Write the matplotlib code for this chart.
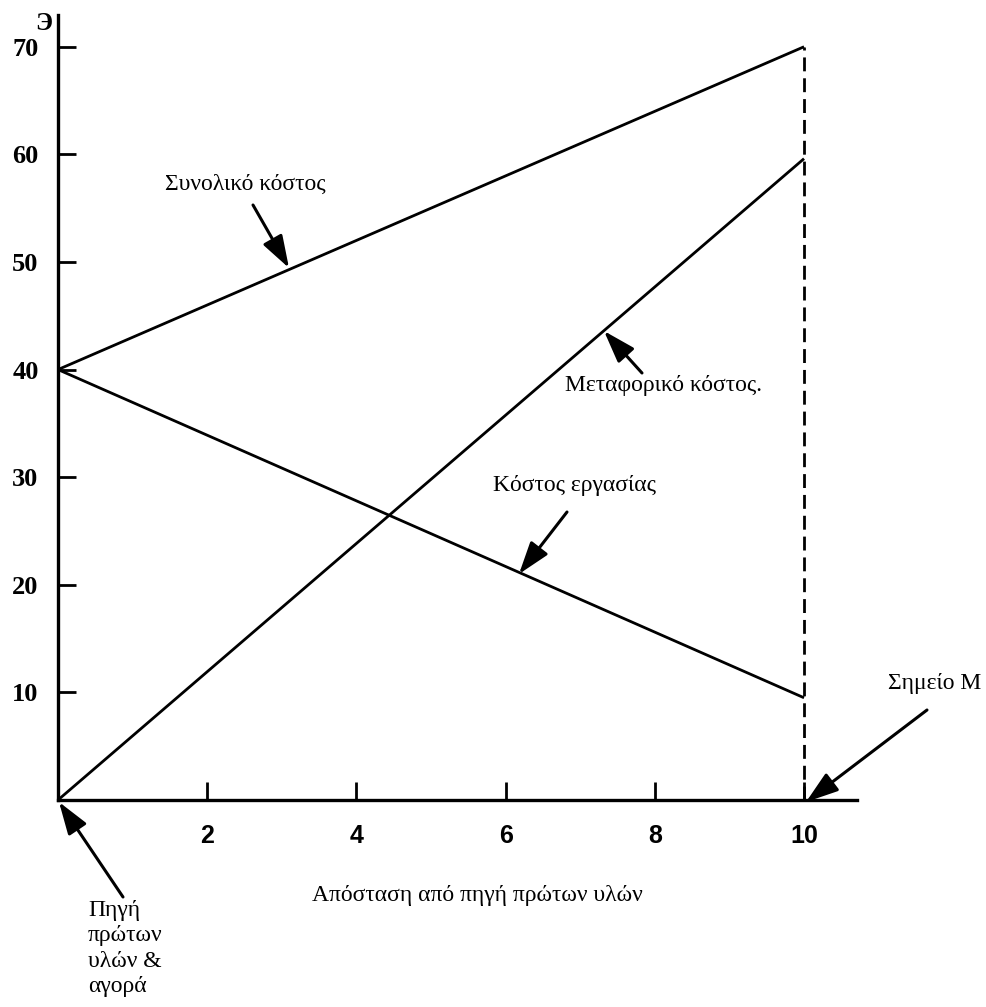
import matplotlib
matplotlib.use("Agg")
import matplotlib.pyplot as plt

# Data
distance = [0, 10]
total_cost = [40, 70]
transport_cost = [0, 59.6]
labour_cost = [40, 9.5]
x_ticks = [2, 4, 6, 8, 10]
y_ticks = [10, 20, 30, 40, 50, 60, 70]
point_m = 10

SERIF = "Liberation Serif"
SANS = "Liberation Sans"

W, H = 987, 1007
fig = plt.figure(figsize=(W / 100, H / 100), dpi=100)
ax = fig.add_axes([58 / W, 1 - 800 / H, 799 / W, 785 / H])
ax.set_xlim(0, 10.71)
ax.set_ylim(0, 72.95)

lw = 2.0
ax.plot(distance, total_cost, color="black", lw=lw, solid_capstyle="butt")
ax.plot(distance, transport_cost, color="black", lw=lw, solid_capstyle="butt")
ax.plot(distance, labour_cost, color="black", lw=lw, solid_capstyle="butt")
ax.plot([point_m, point_m], [0, total_cost[1]], color="black", lw=lw,
        linestyle=(0, (5, 2.5)))

for s in ["top", "right"]:
    ax.spines[s].set_visible(False)
for s in ["left", "bottom"]:
    ax.spines[s].set_linewidth(2.4)

ax.set_xticks(x_ticks)
ax.set_yticks(y_ticks)
ax.set_xticklabels([str(v) for v in x_ticks], fontfamily=SANS,
                   fontweight="bold", fontsize=18)
ax.set_yticklabels([str(v) for v in y_ticks], fontfamily=SERIF,
                   fontweight="bold", fontsize=19)
ax.tick_params(axis="x", direction="in", length=13, width=2, pad=17)
ax.tick_params(axis="y", direction="in", length=13, width=2, pad=14)

def px(x, y):
    return (x / W, 1 - y / H)

fig.text(*px(44, 23), "Э", fontfamily=SERIF, fontweight="bold",
         fontsize=18, ha="center", va="center")

tkw = dict(fontfamily=SERIF, fontsize=17, color="black")
fig.text(*px(165, 184), "Συνολικό κόστος", ha="left", va="center", **tkw)
fig.text(*px(565, 386), "Μεταφορικό κόστος.", ha="left", va="center", **tkw)
fig.text(*px(493, 486), "Κόστος εργασίας", ha="left", va="center", **tkw)
fig.text(*px(888, 683), "Σημείο Μ", ha="left", va="center", **tkw)
fig.text(*px(312, 896), "Απόσταση από πηγή πρώτων υλών", ha="left",
         va="center", **tkw)
fig.text(*px(88, 900), "Πηγή\nπρώτων\nυλών &\nαγορά", ha="left", va="top",
         linespacing=1.27, **tkw)

arrows = [((253, 205), (289, 268)),
          ((642, 373), (604, 331)),
          ((567, 512), (519, 574)),
          ((927, 710), (806, 802)),
          ((123, 897), (59, 802))]
for (x0, y0), (x1, y1) in arrows:
    fig.add_artist(matplotlib.patches.FancyArrowPatch(
        px(x0, y0), px(x1, y1), transform=fig.transFigure,
        arrowstyle="-|>,head_length=0.9,head_width=0.3",
        mutation_scale=22, lw=2.2, color="black",
        shrinkA=0, shrinkB=0))

fig.savefig("out.png", dpi=100)
